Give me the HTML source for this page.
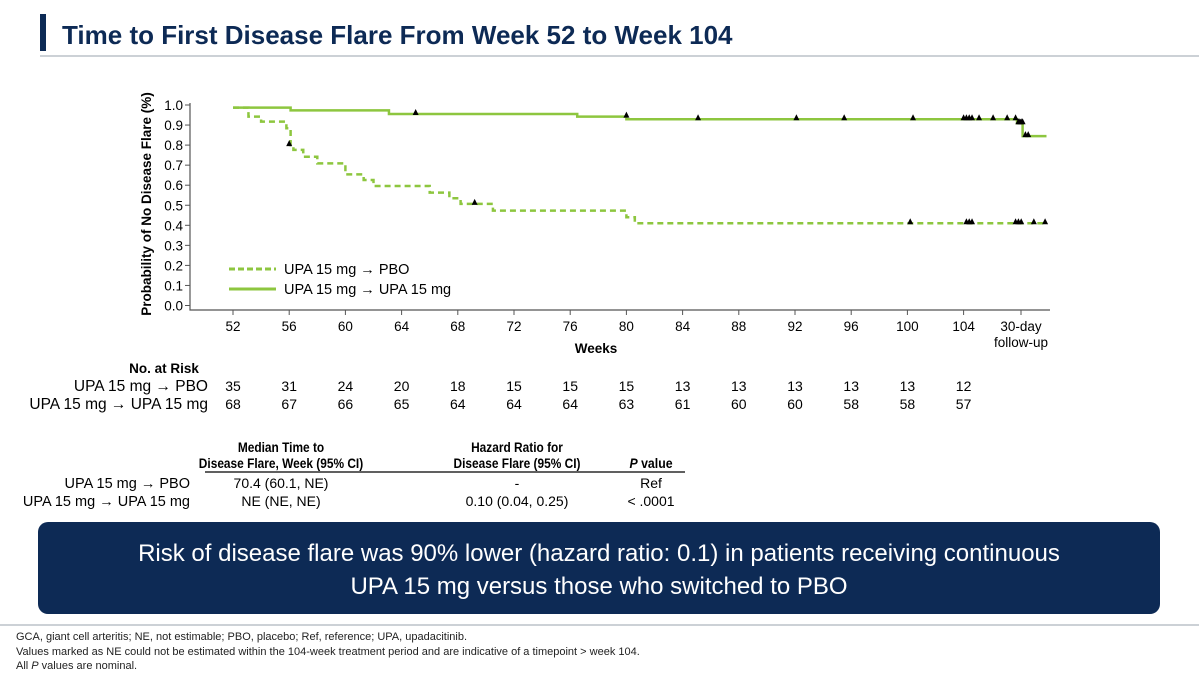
<!DOCTYPE html>
<html><head><meta charset="utf-8"><style>
body{margin:0;width:1199px;height:672px;overflow:hidden;background:#fff;font-family:"Liberation Sans",Arial,sans-serif}
svg text{font-family:"Liberation Sans",Arial,sans-serif}
</style></head><body>
<svg id="c" width="1199" height="672" xmlns="http://www.w3.org/2000/svg">
<rect x="40" y="14" width="6" height="37" fill="#0d2a55"/>
<text x="62" y="44" font-size="26" font-weight="bold" fill="#0d2a55">Time to First Disease Flare From Week 52 to Week 104</text>
<line x1="40" y1="56" x2="1199" y2="56" stroke="#9aa3ad" stroke-width="1"/>
<g id="chart"></g>
<g id="risk"></g>
<g font-size="14">
<g transform="translate(281,0) scale(0.85,1)" font-weight="bold" font-size="14" text-anchor="middle">
<text x="0" y="452">Median Time to</text>
<text x="0" y="468">Disease Flare, Week (95% CI)</text>
</g>
<g transform="translate(517,0) scale(0.85,1)" font-weight="bold" font-size="14" text-anchor="middle">
<text x="0" y="452">Hazard Ratio for</text>
<text x="0" y="468">Disease Flare (95% CI)</text>
</g>
<g transform="translate(651,0) scale(0.88,1)" font-weight="bold" font-size="14" text-anchor="middle">
<text x="0" y="468"><tspan font-style="italic">P</tspan> value</text>
</g>
<line x1="205" y1="472" x2="685" y2="472" stroke="#000" stroke-width="1.2"/>
<text x="190" y="488" text-anchor="end" font-size="14.5">UPA 15 mg → PBO</text>
<text x="190" y="506" text-anchor="end" font-size="14.5">UPA 15 mg → UPA 15 mg</text>
<text x="281" y="488" text-anchor="middle">70.4 (60.1, NE)</text>
<text x="281" y="506" text-anchor="middle">NE (NE, NE)</text>
<text x="517" y="488" text-anchor="middle">-</text>
<text x="517" y="506" text-anchor="middle">0.10 (0.04, 0.25)</text>
<text x="651" y="488" text-anchor="middle">Ref</text>
<text x="651" y="506" text-anchor="middle">&lt; .0001</text>
</g>
<rect x="38" y="522" width="1122" height="92" rx="10" fill="#0d2a55"/>
<text x="599" y="561" text-anchor="middle" font-size="24" fill="#fff">Risk of disease flare was 90% lower (hazard ratio: 0.1) in patients receiving continuous</text>
<text x="599" y="594" text-anchor="middle" font-size="24" fill="#fff">UPA 15 mg versus those who switched to PBO</text>
<line x1="0" y1="625" x2="1199" y2="625" stroke="#9aa3ad"/>
<g font-size="11" fill="#222">
<text x="16" y="640">GCA, giant cell arteritis; NE, not estimable; PBO, placebo; Ref, reference; UPA, upadacitinib.</text>
<text x="16" y="655">Values marked as NE could not be estimated within the 104-week treatment period and are indicative of a timepoint &gt; week 104.</text>
<text x="16" y="669">All <tspan font-style="italic">P</tspan> values are nominal.</text>
</g>
</svg>
<script>
const xTicks=[52,56,60,64,68,72,76,80,84,88,92,96,100,104];
const yTicks=[0,0.1,0.2,0.3,0.4,0.5,0.6,0.7,0.8,0.9,1.0];
const pboStart=0.987;
const pboTimes=[53.1,54,55.8,56.1,56.3,57,58,60,61.3,62,66,67.4,68.2,70.5,80,80.6];
const pboSurv=[0.942,0.917,0.884,0.80,0.776,0.742,0.709,0.654,0.626,0.596,0.563,0.535,0.507,0.473,0.44,0.41];
const pboEnd=109.8;
const upaStart=0.987;
const upaTimes=[56.1,63.1,76.5,80,107.8,108.2];
const upaSurv=[0.973,0.955,0.942,0.929,0.909,0.845];
const upaEnd=109.9;
const pboCensT=[56,69.2,100.2,104.2,104.4,104.6,107.7,107.9,108.1,109.0,109.8];
const pboCensS=[0.80,0.507,0.41,0.41,0.41,0.41,0.41,0.41,0.41,0.41,0.41];
const upaCensT=[65,80,85.1,92.1,95.5,100.4,104,104.2,104.4,104.6,105.1,106.1,107.1,107.7,107.9,108.0,108.1,108.2,108.4,108.6];
const upaCensS=[0.955,0.942,0.929,0.929,0.929,0.929,0.929,0.929,0.929,0.929,0.929,0.929,0.929,0.929,0.909,0.909,0.909,0.909,0.845,0.845];
const riskPbo=[35,31,24,20,18,15,15,15,13,13,13,13,13,12];
const riskUpa=[68,67,66,65,64,64,64,63,61,60,60,58,58,57];
const NS='http://www.w3.org/2000/svg';
const X=w=>233+(w-52)*14.05;
const Y=s=>305.5-s*200.5;
const chart=document.getElementById('chart'),risk=document.getElementById('risk');
function el(p,t,a,txt){const e=document.createElementNS(NS,t);for(const k in a)e.setAttribute(k,a[k]);if(txt!=null)e.textContent=txt;p.appendChild(e);return e;}
let ax=el(chart,'path',{d:`M190 ${Y(1)-2} V310 H1050`,stroke:'#555',fill:'none','stroke-width':1.2});


yTicks.forEach(v=>{el(chart,'line',{x1:185,x2:190,y1:Y(v),y2:Y(v),stroke:'#555'});
let t=el(chart,'text',{x:183,y:Y(v)+5,'text-anchor':'end','font-size':13.5},v.toFixed(1));

});
xTicks.forEach(v=>{el(chart,'line',{x1:X(v),x2:X(v),y1:310,y2:315,stroke:'#555'});
let t=el(chart,'text',{x:X(v),y:331,'text-anchor':'middle','font-size':13.5},String(v));

});
el(chart,'line',{x1:1021,x2:1021,y1:310,y2:315,stroke:'#555'});
el(chart,'text',{x:1021,y:331,'text-anchor':'middle','font-size':13.5},'30-day');
el(chart,'text',{x:1021,y:347,'text-anchor':'middle','font-size':13.5},'follow-up');
let xt=el(chart,'text',{x:596,y:353,'text-anchor':'middle','font-size':13.5,'font-weight':'bold'},'Weeks');


let yt=el(chart,'text',{x:0,y:0,transform:'translate(151,204) rotate(-90)','text-anchor':'middle','font-size':13.5,'font-weight':'bold'},'Probability of No Disease Flare (%)');


function km(start,T,S,end){let d=`M${X(52)} ${Y(start)}`;for(let i=0;i<T.length;i++){d+=` H${X(T[i])} V${Y(S[i])}`;}d+=` H${X(end)}`;return d;}
let p1=el(chart,'path',{d:km(pboStart,pboTimes,pboSurv,pboEnd),stroke:'#8dc63f',fill:'none','stroke-width':2.5,'stroke-dasharray':'6 4'});


let p2=el(chart,'path',{d:km(upaStart,upaTimes,upaSurv,upaEnd),stroke:'#8dc63f',fill:'none','stroke-width':2.5});


function tri(t,s){const x=X(t),y=Y(s);let m=el(chart,'path',{d:`M${x-3} ${y+1} L${x} ${y-5} L${x+3} ${y+1}Z`,fill:'#000'});

}
pboCensT.forEach((t,i)=>tri(t,pboCensS[i]));
upaCensT.forEach((t,i)=>tri(t,upaCensS[i]));
let l1=el(chart,'line',{x1:229,x2:276,y1:269,y2:269,stroke:'#8dc63f','stroke-width':3,'stroke-dasharray':'6 3'});


let l2=el(chart,'line',{x1:229,x2:276,y1:289,y2:289,stroke:'#8dc63f','stroke-width':3});


let lt1=el(chart,'text',{x:284,y:274,'font-size':14.5},'UPA 15 mg → PBO');


let lt2=el(chart,'text',{x:284,y:294,'font-size':14.5},'UPA 15 mg → UPA 15 mg');


let rh=el(risk,'text',{x:164,y:373,'font-size':13.5,'font-weight':'bold','text-anchor':'middle'},'No. at Risk');


el(risk,'text',{x:208,y:391,'font-size':15.5,'text-anchor':'end'},'UPA 15 mg → PBO');
el(risk,'text',{x:208,y:409,'font-size':15.5,'text-anchor':'end'},'UPA 15 mg → UPA 15 mg');
riskPbo.forEach((v,i)=>{let t=el(risk,'text',{x:X(xTicks[i]),y:391,'font-size':14,'text-anchor':'middle'},String(v));

});
riskUpa.forEach((v,i)=>{let t=el(risk,'text',{x:X(xTicks[i]),y:409,'font-size':14,'text-anchor':'middle'},String(v));

});
</script>
</body></html>
